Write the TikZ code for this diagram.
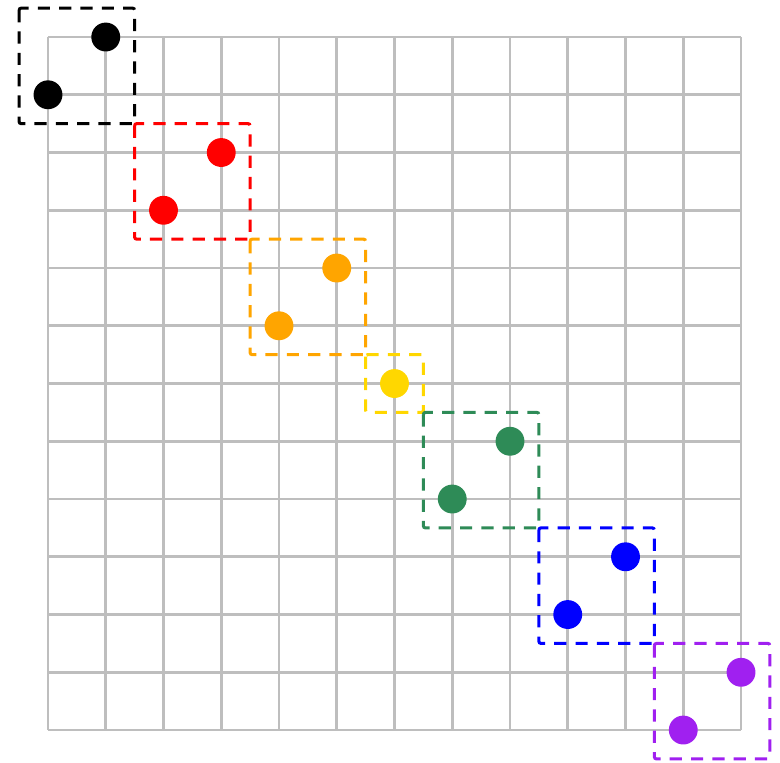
\documentclass[tikz,border=0pt]{standalone}
\usetikzlibrary{positioning}
\definecolor{gridgray}{RGB}{190,190,190}
\definecolor{orange}{RGB}{255,165,0}
\definecolor{gold}{RGB}{255,215,0}
\definecolor{seagreen}{RGB}{46,139,87}
\definecolor{purple}{RGB}{160,32,240}
\tikzset{
    dot/.style={circle, fill=#1, inner sep=0pt, minimum size=0.5cm},
    group/.style={draw=#1, line width=1.5pt, dash pattern=on 6pt off 4.5pt, rounded corners=1pt},
}
\begin{document}
\begin{tikzpicture}[x=1cm, y=-1cm]
    \useasboundingbox (-0.831, -0.641) rectangle (12.675, 12.554);

    % grid
    \foreach \i in {0,...,12} {
        \draw[gridgray, line width=1.4pt] (\i, 0) -- (\i, 12);
        \draw[gridgray, line width=1.4pt] (0, \i) -- (12, \i);
    }

    % groups
    \foreach \a/\b/\col in {-0.5/1.5/black, 1.5/3.5/red, 3.5/5.5/orange, 5.5/6.5/gold, 6.5/8.5/seagreen, 8.5/10.5/blue, 10.5/12.5/purple} {
        \draw[group=\col] (\a, \a) rectangle (\b, \b);
    }

    % points
    \foreach \x/\y/\col/\name in {1/0/black/k1, 0/1/black/k2, 3/2/red/r1, 2/3/red/r2, 5/4/orange/o1, 4/5/orange/o2, 6/6/gold/y1, 8/7/seagreen/g1, 7/8/seagreen/g2, 10/9/blue/b1, 9/10/blue/b2, 12/11/purple/p1, 11/12/purple/p2} {
        \node[dot=\col] (\name) at (\x, \y) {};
    }
\end{tikzpicture}
\end{document}
